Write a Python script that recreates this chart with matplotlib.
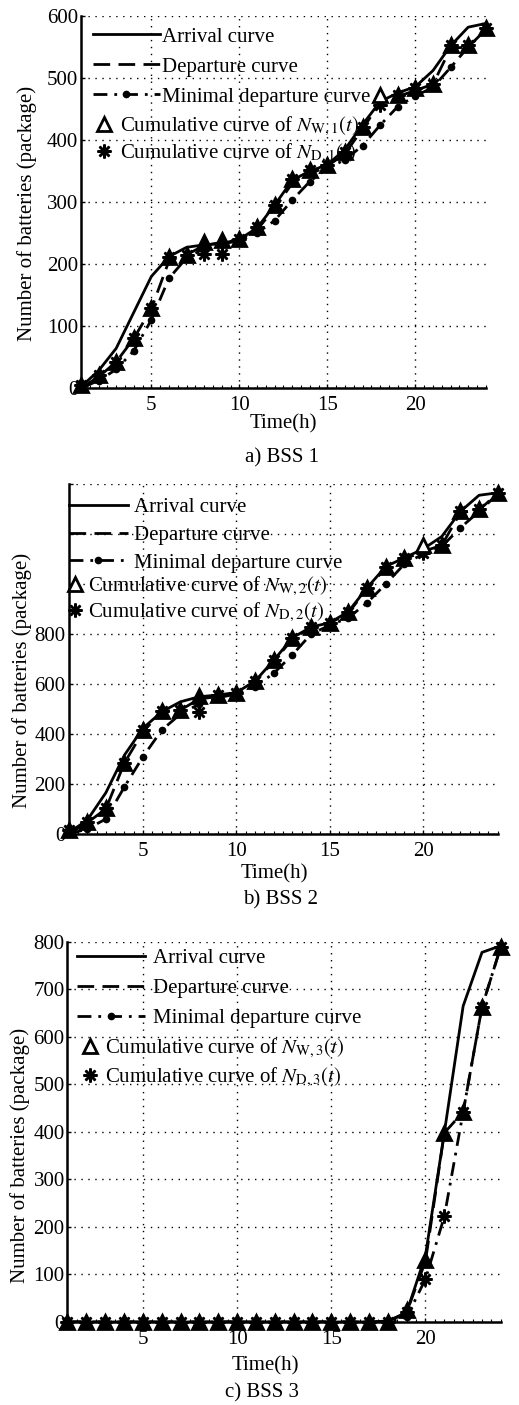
import matplotlib
matplotlib.use("Agg")
import matplotlib.pyplot as plt
from matplotlib.lines import Line2D
from matplotlib.ticker import MultipleLocator

plt.rcParams['font.family'] = ['Liberation Serif', 'DejaVu Serif']
plt.rcParams['mathtext.fontset'] = 'stix'

hours = list(range(1, 25))

# BSS 1
arr1 = [2, 28, 64, 122, 180, 212, 227, 231, 233, 240, 258, 295, 335, 350, 360, 385, 425, 462, 476, 486, 512, 552, 582, 588]
dep1 = [0, 18, 42, 80, 128, 205, 215, 230, 235, 240, 255, 290, 330, 345, 358, 378, 418, 460, 470, 480, 490, 548, 550, 578]
mind1 = [0, 12, 30, 60, 110, 177, 210, 225, 232, 238, 250, 270, 303, 333, 355, 368, 391, 424, 454, 471, 485, 517, 550, 577]
w1 = [5, 21, 42, 80, 129, 212, 215, 236, 238, 241, 259, 295, 337, 352, 360, 381, 421, 472, 472, 484, 491, 553, 553, 580]
d1 = [5, 21, 42, 80, 129, 212, 215, 216, 216, 241, 259, 295, 337, 352, 360, 381, 421, 456, 472, 484, 491, 553, 553, 580]

# BSS 2
arr2 = [5, 55, 165, 316, 424, 489, 529, 549, 556, 566, 612, 695, 785, 828, 845, 890, 985, 1070, 1105, 1140, 1190, 1290, 1355, 1365]
dep2 = [0, 45, 100, 285, 410, 490, 496, 540, 550, 565, 610, 690, 780, 825, 843, 885, 980, 1065, 1100, 1130, 1155, 1285, 1296, 1363]
mind2 = [0, 20, 60, 189, 310, 416, 480, 520, 545, 560, 590, 643, 717, 800, 835, 865, 925, 1000, 1080, 1120, 1150, 1225, 1290, 1360]
w2 = [16, 49, 103, 286, 416, 492, 496, 552, 556, 565, 614, 696, 786, 829, 843, 889, 983, 1069, 1103, 1156, 1156, 1292, 1300, 1363]
d2 = [16, 49, 103, 286, 416, 492, 496, 489, 556, 565, 614, 696, 786, 829, 843, 889, 983, 1069, 1103, 1125, 1156, 1292, 1300, 1363]

# BSS 3
arr3 = [0] * 17 + [2, 20, 140, 398, 665, 778, 792]
dep3 = [0] * 18 + [20, 128, 398, 442, 663, 790]
mind3 = [0] * 18 + [10, 90, 222, 442, 663, 790]
w3 = [0] * 18 + [25, 130, 398, 442, 663, 790]
d3 = [0] * 18 + [20, 90, 222, 442, 663, 790]

star = (8, 2, 0)
dashed = (0, (6, 3))
dashdot = (0, (5, 2.5, 1, 2.5))
FS = 15

fig = plt.figure(figsize=(5.19, 14.05), dpi=100)

panels = [
    dict(data=(arr1, dep1, mind1, w1, d1), idx='1', hollow=18,
         rect=[0.156, 0.7238, 0.780, 0.2648], ymax=600, ystep=100, ylab_max=600,
         leg1=(0.03, 0.97, 3.2, 0.1, 0.5), leg2=(0.03, 0.735, 1.0, 0.3, 0.22),
         xlab=(0.5, -0.07), ylab=(-0.108, 0.47), cap=('a) BSS 1', 0.543, 0.674)),
    dict(data=(arr2, dep2, mind2, w2, d2), idx='2', hollow=20,
         rect=[0.132, 0.4064, 0.827, 0.2491], ymax=1400, ystep=200, ylab_max=800,
         leg1=(0.0, 0.962, 2.85, 0.3, 0.4), leg2=(-0.008, 0.74, 1.0, 0.1, 0.12),
         xlab=(0.48, -0.086), ylab=(-0.086, 0.44), cap=('b) BSS 2', 0.54, 0.3594)),
    dict(data=(arr3, dep3, mind3, w3, d3), idx='3', hollow=None,
         rect=[0.130, 0.0591, 0.835, 0.2705], ymax=800, ystep=100, ylab_max=800,
         leg1=(0.022, 0.982, 3.27, 0.4, 0.5), leg2=(0.027, 0.75, 1.0, 0.22, 0.3),
         xlab=(0.456, -0.089), ylab=(-0.086, 0.437), cap=('c) BSS 3', 0.505, 0.0085)),
]

for p in panels:
    arr, dep, mind, w, d = p['data']
    ax = fig.add_axes(p['rect'])

    ax.plot(hours, arr, color='k', lw=2)
    ax.plot(hours, dep, color='k', lw=2, linestyle=dashed)
    ax.plot(hours, mind, color='k', lw=2, linestyle=dashdot, marker='o', ms=4.5)
    ax.plot(hours, d, linestyle='none', marker=star, ms=10, mew=1.8, color='k', clip_on=False)
    for h, v in zip(hours, w):
        fc = 'white' if h == p['hollow'] else 'k'
        ax.plot(h, v, linestyle='none', marker='^', ms=10, mfc=fc, mec='k', mew=2, clip_on=False)

    ax.set_xlim(1, 24)
    ax.set_ylim(0, p['ymax'])
    ax.set_xticks([5, 10, 15, 20])
    ax.xaxis.set_minor_locator(MultipleLocator(0.5))
    yt = list(range(0, p['ymax'] + 1, p['ystep']))
    ax.set_yticks(yt)
    ax.set_yticklabels([str(v) if v <= p['ylab_max'] else '' for v in yt])
    ax.tick_params(axis='both', which='major', direction='in', length=3, labelsize=FS, width=1)
    ax.tick_params(axis='y', which='major', pad=2)
    ax.tick_params(axis='x', which='major', pad=6)
    ax.tick_params(axis='x', which='minor', direction='in', length=2, width=0.8)
    ax.grid(True, which='major', color='k', linestyle=(0, (1, 4)), lw=1)
    for s in ['top', 'right']:
        ax.spines[s].set_visible(False)
    for s in ['left', 'bottom']:
        ax.spines[s].set_linewidth(1.8)

    ax.set_xlabel('Time(h)', fontsize=FS)
    ax.xaxis.set_label_coords(*p['xlab'])
    ax.set_ylabel('Number of batteries (package)', fontsize=FS)
    ax.yaxis.set_label_coords(*p['ylab'])

    i = p['idx']
    h1 = [Line2D([], [], color='k', lw=2),
          Line2D([], [], color='k', lw=2, linestyle=dashed),
          Line2D([], [], color='k', lw=2, linestyle=dashdot, marker='o', ms=4.5, markevery=[1])]
    lab1 = ['Arrival curve', 'Departure curve', 'Minimal departure curve']
    x1, y1, hl1, tp1, ls1 = p['leg1']
    leg1 = ax.legend(h1, lab1, loc='upper left', bbox_to_anchor=(x1, y1), frameon=False,
                     fontsize=FS, handlelength=hl1, handletextpad=tp1, borderpad=0,
                     borderaxespad=0, labelspacing=ls1)
    ax.add_artist(leg1)
    h2 = [Line2D([], [], linestyle='none', marker='^', ms=10, mfc='white', mec='k', mew=2),
          Line2D([], [], linestyle='none', marker=star, ms=10, mew=1.8, color='k')]
    lab2 = [r'Cumulative curve of $N_{\mathrm{W,' + i + r'}}(t)$',
            r'Cumulative curve of $N_{\mathrm{D,' + i + r'}}(t)$']
    x2, y2, hl2, tp2, ls2 = p['leg2']
    ax.legend(h2, lab2, loc='upper left', bbox_to_anchor=(x2, y2), frameon=False,
              fontsize=FS, handlelength=hl2, handletextpad=tp2, borderpad=0,
              borderaxespad=0, labelspacing=ls2)

    cap, cx, cy = p['cap']
    fig.text(cx, cy, cap, ha='center', va='center', fontsize=FS)

fig.savefig('out.png', dpi=100)
